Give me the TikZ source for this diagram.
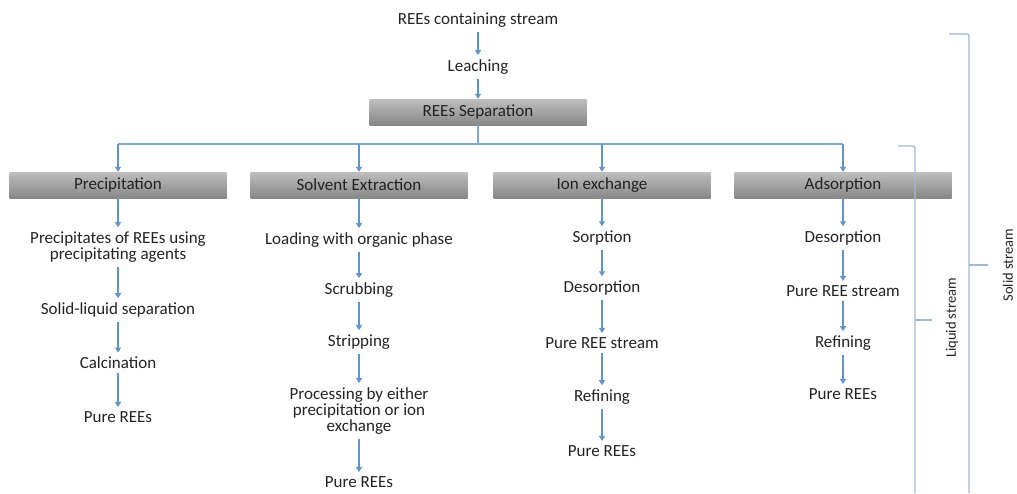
\documentclass[tikz,border=0pt]{standalone}
\usepackage{fontspec}
\setmainfont{Carlito}
\usetikzlibrary{arrows.meta}

\definecolor{arrowblue}{RGB}{95,148,205}
\definecolor{braceblue}{RGB}{160,185,214}
\definecolor{boxtop}{RGB}{190,190,190}
\definecolor{boxbottom}{RGB}{135,135,135}
\definecolor{ink}{RGB}{35,35,35}

\tikzset{
  txt/.style={align=center, inner sep=2pt, outer sep=2.5pt, text=ink, font=\fontsize{17}{16}\selectfont},
  stage/.style={rectangle, minimum width=217pt, minimum height=26pt, inner sep=0pt,
    top color=boxtop, bottom color=boxbottom, text=ink, font=\fontsize{17}{16}\selectfont},
  flow/.style={draw=arrowblue, line width=1.1pt, -{Triangle[width=6pt,length=5pt]}},
  link/.style={draw=arrowblue!80, line width=1.1pt},
  brace/.style={draw=braceblue, line width=1.3pt, rounded corners=2pt},
  side/.style={rotate=90, text=ink, font=\fontsize{14.5}{16}\selectfont}
}

\begin{document}
\begin{tikzpicture}[x=1pt, y=-1pt]
  \useasboundingbox (0,0) rectangle (1017,493);

  % top chain
  \node[txt]   (feed)  at (478,20)  {REEs containing stream};
  \node[txt]   (leach) at (478,67)  {Leaching};
  \node[stage] (sep)   at (478,112) {REEs Separation};
  \coordinate  (bus)   at (478,144);

  % the four routes
  \node[stage] (prec) at (118,185) {Precipitation};
  \node[stage] (solv) at (359,185) {Solvent Extraction};
  \node[stage] (ion)  at (602,185) {Ion exchange};
  \node[stage] (ads)  at (843,185) {Adsorption};

  % precipitation
  \node[txt] (pagent) at (118,247) {Precipitates of REEs using\\precipitating agents};
  \node[txt] (slsep)  at (118,310) {Solid-liquid separation};
  \node[txt] (calc)   at (118,363) {Calcination};
  \node[txt] (pureA)  at (118,417) {Pure REEs};

  % solvent extraction
  \node[txt] (load)   at (359,240) {Loading with organic phase};
  \node[txt] (scrub)  at (359,290) {Scrubbing};
  \node[txt] (strip)  at (359,342) {Stripping};
  \node[txt] (proc)   at (359,411) {Processing by either\\precipitation or ion\\exchange};
  \node[txt] (pureB)  at (359,482) {Pure REEs};

  % ion exchange
  \node[txt] (sorp)   at (602,238) {Sorption};
  \node[txt] (desC)   at (602,288) {Desorption};
  \node[txt] (strC)   at (602,343) {Pure REE stream};
  \node[txt] (refC)   at (602,397) {Refining};
  \node[txt] (pureC)  at (602,451) {Pure REEs};

  % adsorption
  \node[txt] (desD)   at (843,238) {Desorption};
  \node[txt] (strD)   at (843,291) {Pure REE stream};
  \node[txt] (refD)   at (843,343) {Refining};
  \node[txt] (pureD)  at (843,394) {Pure REEs};

  \draw[flow] (feed) -- (leach);
  \draw[flow] (leach) -- (sep);
  \draw[link] (sep) -- (bus);
  \draw[link] (prec |- bus) -- (ads |- bus);
  \foreach \n in {prec,solv,ion,ads}
    \draw[flow] (\n |- bus) -- (\n);

  \foreach \a/\b in {prec/pagent, pagent/slsep, slsep/calc, calc/pureA,
                     solv/load, load/scrub, scrub/strip, strip/proc, proc/pureB,
                     ion/sorp, sorp/desC, desC/strC, strC/refC, refC/pureC,
                     ads/desD, desD/strD, strD/refD, refD/pureD}
    \draw[flow] (\a) -- (\b);

  % brackets
  \coordinate (lqtop) at (898,146);
  \coordinate (lqbot) at (915,493);
  \coordinate (lqmid) at (932,320);
  \draw[brace] (lqtop) -- (lqbot |- lqtop) -- (lqbot);
  \draw[brace] (lqbot |- lqmid) -- (lqmid);
  \node[side] (liquid) at (952,318) {Liquid stream};

  \coordinate (sdtop) at (949,34);
  \coordinate (sdbot) at (969,493);
  \coordinate (sdmid) at (988,265);
  \draw[brace] (sdtop) -- (sdbot |- sdtop) -- (sdbot);
  \draw[brace] (sdbot |- sdmid) -- (sdmid);
  \node[side] (solid) at (1008,265) {Solid stream};
\end{tikzpicture}
\end{document}
